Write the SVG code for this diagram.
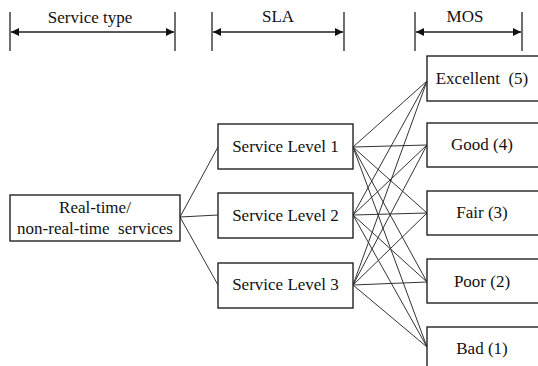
<svg xmlns="http://www.w3.org/2000/svg" width="538" height="366" viewBox="0 0 538 366">
<style>
text{font-family:'Liberation Serif','DejaVu Serif','Times New Roman',Times,serif;font-size:17px;fill:#111;text-anchor:middle}
.box{fill:#fff;stroke:#222;stroke-width:1.4}
.ln{stroke:#333;stroke-width:1;fill:none}
.bar{stroke:#222;stroke-width:1.3}
</style>
<defs>
<marker id="ah" viewBox="0 0 10 10" refX="10" refY="5" markerWidth="9" markerHeight="8" markerUnits="userSpaceOnUse" orient="auto-start-reverse">
<path d="M0,0L10,5L0,10Z" fill="#111"/>
</marker>
</defs>
<rect width="538" height="366" fill="#fff"/>
<g id="header">
<line class="bar" x1="10" y1="12" x2="10" y2="51"/>
<line class="bar" x1="175" y1="12" x2="175" y2="51"/>
<line class="bar" x1="11" y1="32" x2="174" y2="32" marker-start="url(#ah)" marker-end="url(#ah)"/>
<text x="90" y="23">Service type</text>
<line class="bar" x1="212" y1="12" x2="212" y2="51"/>
<line class="bar" x1="344" y1="12" x2="344" y2="51"/>
<line class="bar" x1="213" y1="32" x2="343" y2="32" marker-start="url(#ah)" marker-end="url(#ah)"/>
<text x="278" y="22">SLA</text>
<line class="bar" x1="415" y1="12" x2="415" y2="51"/>
<line class="bar" x1="522" y1="12" x2="522" y2="51"/>
<line class="bar" x1="416" y1="32" x2="521" y2="32" marker-start="url(#ah)" marker-end="url(#ah)"/>
<text x="465" y="22">MOS</text>
</g>
<g id="connectors">
<line class="ln" x1="180" y1="217" x2="218" y2="147"/>
<line class="ln" x1="180" y1="217" x2="218" y2="215"/>
<line class="ln" x1="180" y1="217" x2="218" y2="285"/>
<path class="ln" d="M353,147L427,81M353,147L427,145M353,147L427,213M353,147L427,282M353,147L427,347"/>
<path class="ln" d="M353,215L427,81M353,215L427,145M353,215L427,213M353,215L427,282M353,215L427,347"/>
<path class="ln" d="M353,285L427,81M353,285L427,145M353,285L427,213M353,285L427,282M353,285L427,347"/>
</g>
<g id="realtime">
<rect class="box" x="10" y="195" width="170" height="46"/>
<text x="95" y="213">Real-time/</text>
<text x="95" y="234" xml:space="preserve">non-real-time  services</text>
</g>
<g id="sl1">
<rect class="box" x="218" y="124" width="135" height="45"/>
<text x="285.5" y="152">Service Level 1</text>
</g>
<g id="sl2">
<rect class="box" x="218" y="193" width="135" height="45"/>
<text x="285.5" y="221">Service Level 2</text>
</g>
<g id="sl3">
<rect class="box" x="218" y="263" width="135" height="45"/>
<text x="285.5" y="290">Service Level 3</text>
</g>
<g id="excellent">
<rect class="box" x="427" y="56" width="112" height="45"/>
<text x="482" y="84" xml:space="preserve">Excellent  (5)</text>
</g>
<g id="good">
<rect class="box" x="427" y="123" width="112" height="44"/>
<text x="482" y="150">Good (4)</text>
</g>
<g id="fair">
<rect class="box" x="427" y="191" width="112" height="44"/>
<text x="482" y="218">Fair (3)</text>
</g>
<g id="poor">
<rect class="box" x="427" y="259" width="112" height="44"/>
<text x="482" y="287">Poor (2)</text>
</g>
<g id="bad">
<rect class="box" x="427" y="327" width="112" height="50"/>
<text x="482" y="354">Bad (1)</text>
</g>
</svg>
